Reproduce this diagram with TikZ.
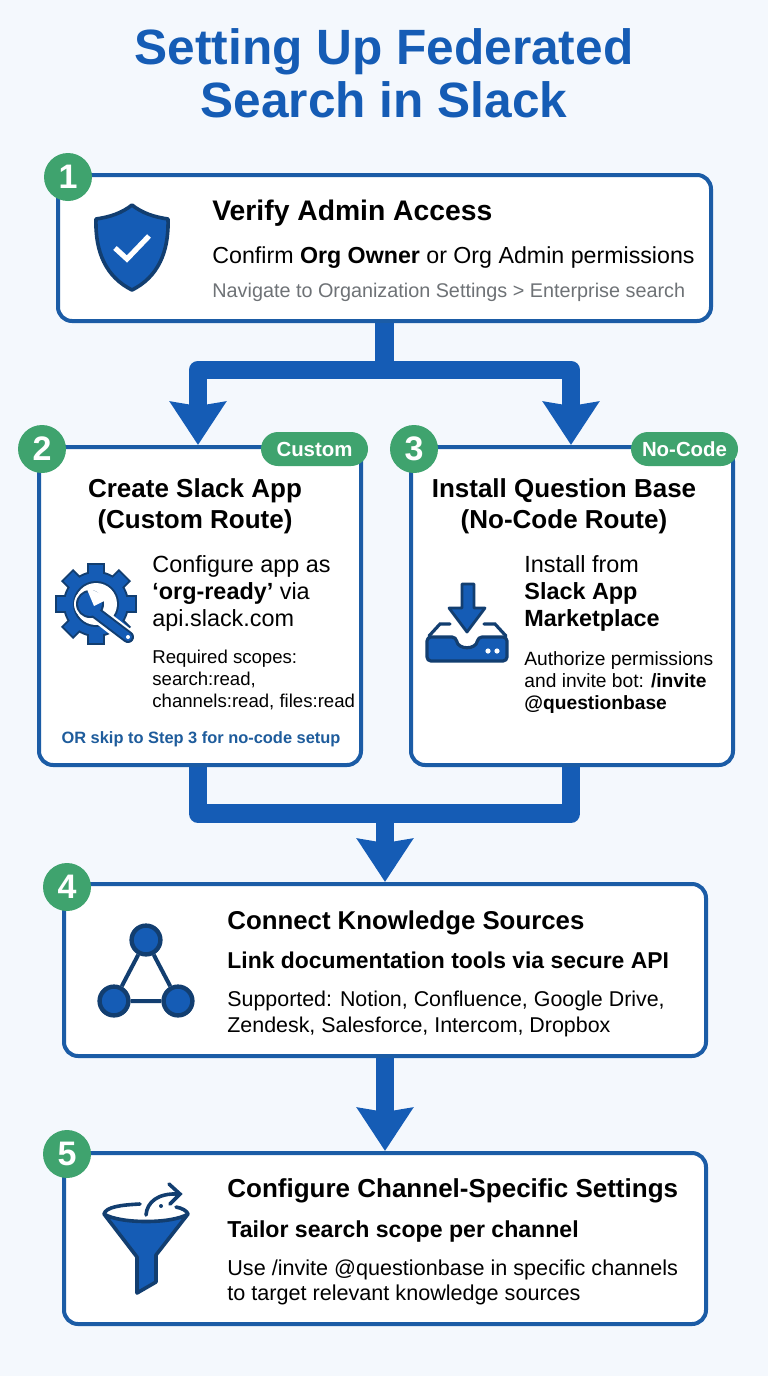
\documentclass[tikz,border=0pt]{standalone}
\usepackage{fontspec}
\setmainfont{Liberation Sans}
\usetikzlibrary{arrows.meta}
\definecolor{pagebg}{HTML}{F4F8FD}
\definecolor{mainblue}{HTML}{155CB5}
\definecolor{edgeblue}{HTML}{1B5CA6}
\definecolor{darkblue}{HTML}{123E70}
\definecolor{badgegreen}{HTML}{3FA36E}
\definecolor{greytext}{HTML}{6E7276}
\definecolor{noteblue}{HTML}{1E5C9C}
\tikzset{
	stepbox/.style={draw=edgeblue,line width=2pt,fill=white,rounded corners=7pt,inner sep=0pt},
	badge/.style={circle,fill=badgegreen,text=white,minimum size=24pt,inner sep=0pt,font=\fontsize{17}{17}\selectfont\bfseries},
	pill/.style={rounded corners=8.5pt,fill=badgegreen,text=white,minimum width=53.5pt,minimum height=17pt,inner sep=0pt,font=\fontsize{10.2}{10.2}\selectfont\bfseries},
	flowline/.style={draw=mainblue,line width=9.4pt,line join=round},
	flowarrow/.style={flowline,-{Stealth[length=21.5pt,width=27.5pt,inset=2pt]}},
	headtxt/.style={anchor=north,inner sep=0pt,align=center,font=\fontsize{13}{15.5}\selectfont\bfseries},
	titletxt/.style={anchor=north west,inner sep=0pt,align=left,font=\fontsize{14.15}{15}\selectfont\bfseries},
	bodytxt/.style={anchor=north west,inner sep=0pt,align=left,font=\fontsize{11.7}{13.6}\selectfont},
	smalltxt/.style={anchor=north west,inner sep=0pt,align=left,font=\fontsize{9.6}{11}\selectfont},
	hubnode/.style={circle,draw=darkblue,line width=2.2pt,fill=mainblue,minimum size=14.4pt,inner sep=0pt},
}
\begin{document}
\begin{tikzpicture}[x=0.5pt,y=-0.5pt]
	\useasboundingbox (0,0) rectangle (768,1376);
	\fill[pagebg] (0,0) rectangle (768,1376)
	;
	\path
	(198,370) coordinate (splitL)
	(571,370) coordinate (splitR)
	(384.5,370) coordinate (splitM)
	(384.5,379) coordinate (splitB)
	(198,813.5) coordinate (joinL)
	(571,813.5) coordinate (joinR)
	(385,813.5) coordinate (joinM)
	(96,604) coordinate (gear)
	;
	% title
	\node[inner sep=0pt,align=center,anchor=north,text=mainblue,font=\fontsize{24.8}{26.4}\selectfont\bfseries] (title) at (384,28) {Setting Up Federated\\Search in Slack};
	% boxes
	\node[stepbox,minimum width=326.5pt,minimum height=73pt] (box1) at (384.5,248) {};
	\node[stepbox,minimum width=161pt,minimum height=159pt] (box2) at (200,606) {};
	\node[stepbox,minimum width=161pt,minimum height=159pt] (box3) at (572,606) {};
	\node[stepbox,minimum width=321pt,minimum height=86pt] (box4) at (385,970) {};
	\node[stepbox,minimum width=321pt,minimum height=85.5pt] (box5) at (385,1238.5) {};
	% connectors
	\draw[flowline] (box1.south) -- (splitB)
	;
	\draw[flowarrow] (splitM) -- (splitL) -- (box2.north -| splitL)
	;
	\draw[flowarrow] (splitM) -- (splitR) -- (box3.north -| splitR)
	;
	\draw[flowline] (box2.south -| joinL) |- (joinR) -- (box3.south -| joinR)
	;
	\draw[flowarrow] (joinM) -- (box4.north)
	;
	\draw[flowarrow] (box4.south) -- (box5.north)
	;
	% badges
	\foreach \n/\x/\y in {1/68/177, 2/42/449, 3/414/449, 4/67/887, 5/67/1154}
	\node[badge] (badge\n) at (\x,\y) {\n}
	;
	\node[pill] (pillcustom) at (314.5,449) {Custom};
	\node[pill] (pillnocode) at (684.5,449) {No-Code};
	% step 1
	\node[titletxt] (head1) at (212,200) {Verify Admin Access};
	\node[bodytxt,font=\fontsize{11.6}{13.6}\selectfont] (body1) at (212,246) {Confirm \textbf{Org Owner} or Org Admin permissions};
	\node[smalltxt,text=greytext,font=\fontsize{9.9}{11}\selectfont] (note1) at (212,283) {Navigate to Organization Settings > Enterprise search};
	% step 2
	\node[headtxt] (head2) at (195,478) {Create Slack App\\(Custom Route)};
	\node[bodytxt] (body2) at (152,555) {Configure app as\\\textbf{‘org-ready’} via\\api.slack.com};
	\node[smalltxt,font=\fontsize{9.3}{11}\selectfont] (note2) at (152,650) {Required scopes:\\search:read,\\channels:read, files:read};
	\node[inner sep=0pt,text=noteblue,font=\fontsize{8.2}{10}\selectfont\bfseries] (skip2) at (201,739) {OR skip to Step 3 for no-code setup};
	% step 3
	\node[headtxt] (head3) at (564,478) {Install Question Base\\(No-Code Route)};
	\node[bodytxt] (body3) at (524,555) {Install from\\\textbf{Slack App}\\\textbf{Marketplace}};
	\node[smalltxt] (note3) at (524,651) {Authorize permissions\\and invite bot: \textbf{/invite}\\\textbf{@questionbase}};
	% step 4
	\node[titletxt,font=\fontsize{12.9}{15}\selectfont\bfseries] (head4) at (227,910) {Connect Knowledge Sources};
	\node[bodytxt,font=\fontsize{11.45}{14}\selectfont\bfseries] (body4) at (227,951) {Link documentation tools via secure API};
	\node[smalltxt,font=\fontsize{10.7}{12.6}\selectfont] (note4) at (227,991) {Supported: Notion, Confluence, Google Drive,\\Zendesk, Salesforce, Intercom, Dropbox};
	% step 5
	\node[titletxt,font=\fontsize{13}{15}\selectfont\bfseries] (head5) at (227,1178) {Configure Channel-Specific Settings};
	\node[bodytxt,font=\fontsize{11.55}{14}\selectfont\bfseries] (body5) at (227,1220) {Tailor search scope per channel};
	\node[smalltxt,font=\fontsize{10.8}{12.6}\selectfont] (note5) at (227,1259) {Use /invite @questionbase in specific channels\\to target relevant knowledge sources};
	% shield
	\draw[fill=mainblue,draw=darkblue,line width=1.8pt,line join=round] (132,205) .. controls (142,213) and (154,217) .. (168,219) .. controls (169,252) and (158,277) .. (132,290) .. controls (106,277) and (95,252) .. (96,219) .. controls (110,217) and (122,213) .. (132,205) -- cycle
	;
	\draw[white,line width=2.6pt] (115,248) -- (127,259) -- (149,236)
	;
	% gear
	\foreach \a in {0,45,...,315} \draw[darkblue,line width=8.6pt] (gear) -- +(\a:41)
	;
	\fill[darkblue] (gear) circle (33)
	;
	\foreach \a in {0,45,...,315} \draw[mainblue,line width=6.6pt] (gear) -- +(\a:39)
	;
	\fill[mainblue] (gear) circle (31)
	;
	\fill[darkblue] (gear) circle (23)
	;
	\fill[white] (gear) circle (21)
	;
	\draw[white,line width=8.4pt] (95,612) -- (131,640)
	;
	\fill[white] (90,604) circle (16)
	;
	\draw[darkblue,line width=6pt,line cap=round] (95,612) -- (128,637)
	;
	\fill[darkblue] (90,604) circle (14)
	;
	\draw[mainblue,line width=4pt,line cap=round] (95,612) -- (128,637)
	;
	\fill[mainblue] (90,604) circle (12)
	;
	\fill[white] (94,606) -- (86,587) -- (110,598) -- cycle
	;
	\fill[white] (128,637) circle (2)
	;
	% tray
	\draw[darkblue,line width=1.6pt,line cap=round] (429,636) -- (440,624) -- (450,624) (484,624) -- (495,624) -- (506,636)
	;
	\draw[fill=mainblue,draw=darkblue,line width=1.6pt,line join=round,rounded corners=2pt] (427,637) -- (456,637) .. controls (458,650) and (476,650) .. (478,637) -- (507,637) -- (507,661) -- (427,661) -- cycle
	;
	\fill[white] (488,651) circle (2.6) (497,651) circle (2.6)
	;
	\draw[fill=mainblue,draw=darkblue,line width=1.4pt,line join=round] (462,584) -- (474,584) -- (474,608) -- (485,608) -- (467,632) -- (449,608) -- (462,608) -- cycle
	;
	% network
	\node[hubnode] (hubtop) at (146,940) {};
	\node[hubnode] (hubleft) at (114,1001) {};
	\node[hubnode] (hubright) at (178,1001) {};
	\draw[darkblue,line width=2pt] (hubtop) -- (hubleft) (hubleft) -- (hubright) (hubright) -- (hubtop)
	;
	% funnel
	\draw[fill=mainblue,draw=darkblue,line width=1.8pt,line join=round] (104,1214) .. controls (120,1224) and (172,1224) .. (188,1214) -- (156,1255) -- (156,1282) -- (137,1293) -- (137,1257) -- cycle
	;
	\draw[darkblue,line width=1.8pt,line cap=round] (104,1214) .. controls (106,1207) and (120,1205) .. (140,1204)
	;
	\draw[darkblue,line width=1.8pt,line cap=round] (176,1207) .. controls (182,1208) and (187,1211) .. (188,1214)
	;
	\draw[darkblue,line width=1.8pt,line cap=round] (146,1215) .. controls (147,1202) and (158,1193) .. (178,1194) (169,1184) -- (180,1194) -- (170,1204)
	;
	\fill[darkblue] (161,1206) circle (2)
	;
\end{tikzpicture}
\end{document}
